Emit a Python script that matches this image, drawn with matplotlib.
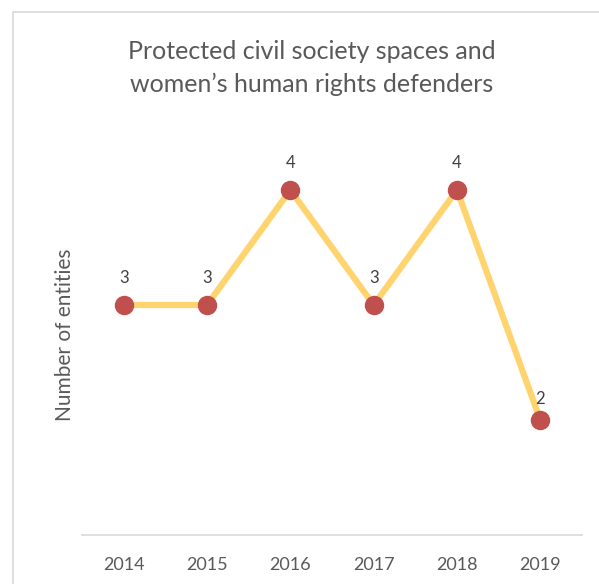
import matplotlib
matplotlib.use("Agg")
import matplotlib.pyplot as plt
from matplotlib.patches import Rectangle

### Data ###
years = ["2014", "2015", "2016", "2017", "2018", "2019"]
entities = [3, 3, 4, 3, 4, 2]

title = "Protected civil society spaces and\nwomen\u2019s human rights defenders"
ylabel = "Number of entities"

plt.rcParams['font.family'] = ['Lato', 'DejaVu Sans']

fig = plt.figure(figsize=(5.99, 5.84), dpi=100)
ax = fig.add_axes([0.1369, 0.0839, 0.8347, 0.8468])

# chart frame (cropped on the right and bottom)
fig.patches.append(Rectangle((13 / 599, -0.1), 1.2, 1 - 12 / 584 + 0.1,
                             transform=fig.transFigure, fill=False,
                             edgecolor="#D9D9D9", lw=1.2))

x = list(range(len(years)))
ax.plot(x, entities, color="#FFD36E", lw=4.5, zorder=2, solid_capstyle="round")
ax.plot(x, entities, "o", color="#C0504D", markersize=13, zorder=3)

# data labels
offsets = [14, 14, 14, 14, 14, 9]
for xi, v, off in zip(x, entities, offsets):
    ax.annotate(str(v), (xi, v), xytext=(0, off), textcoords="offset points",
                ha="center", va="bottom", fontsize=12, color="#404040")

ax.set_xlim(-0.5, len(years) - 0.5)
ax.set_ylim(1, 5.3)
ax.set_xticks(x)
ax.set_xticklabels(years, fontsize=13, color="#595959")
ax.set_yticks([])
ax.tick_params(axis="x", length=0, pad=16)

for s in ["top", "right", "left"]:
    ax.spines[s].set_visible(False)
ax.spines["bottom"].set_color("#D9D9D9")
ax.spines["bottom"].set_linewidth(1.2)

fig.text(312 / 599, 1 - 68 / 584, title, ha="center", va="center",
         fontsize=18, color="#595959", linespacing=1.45)
fig.text(65 / 599, 1 - 335 / 584, ylabel, ha="center", va="center",
         rotation=90, fontsize=15, color="#595959")

fig.savefig("out.png", dpi=100, facecolor="white")
